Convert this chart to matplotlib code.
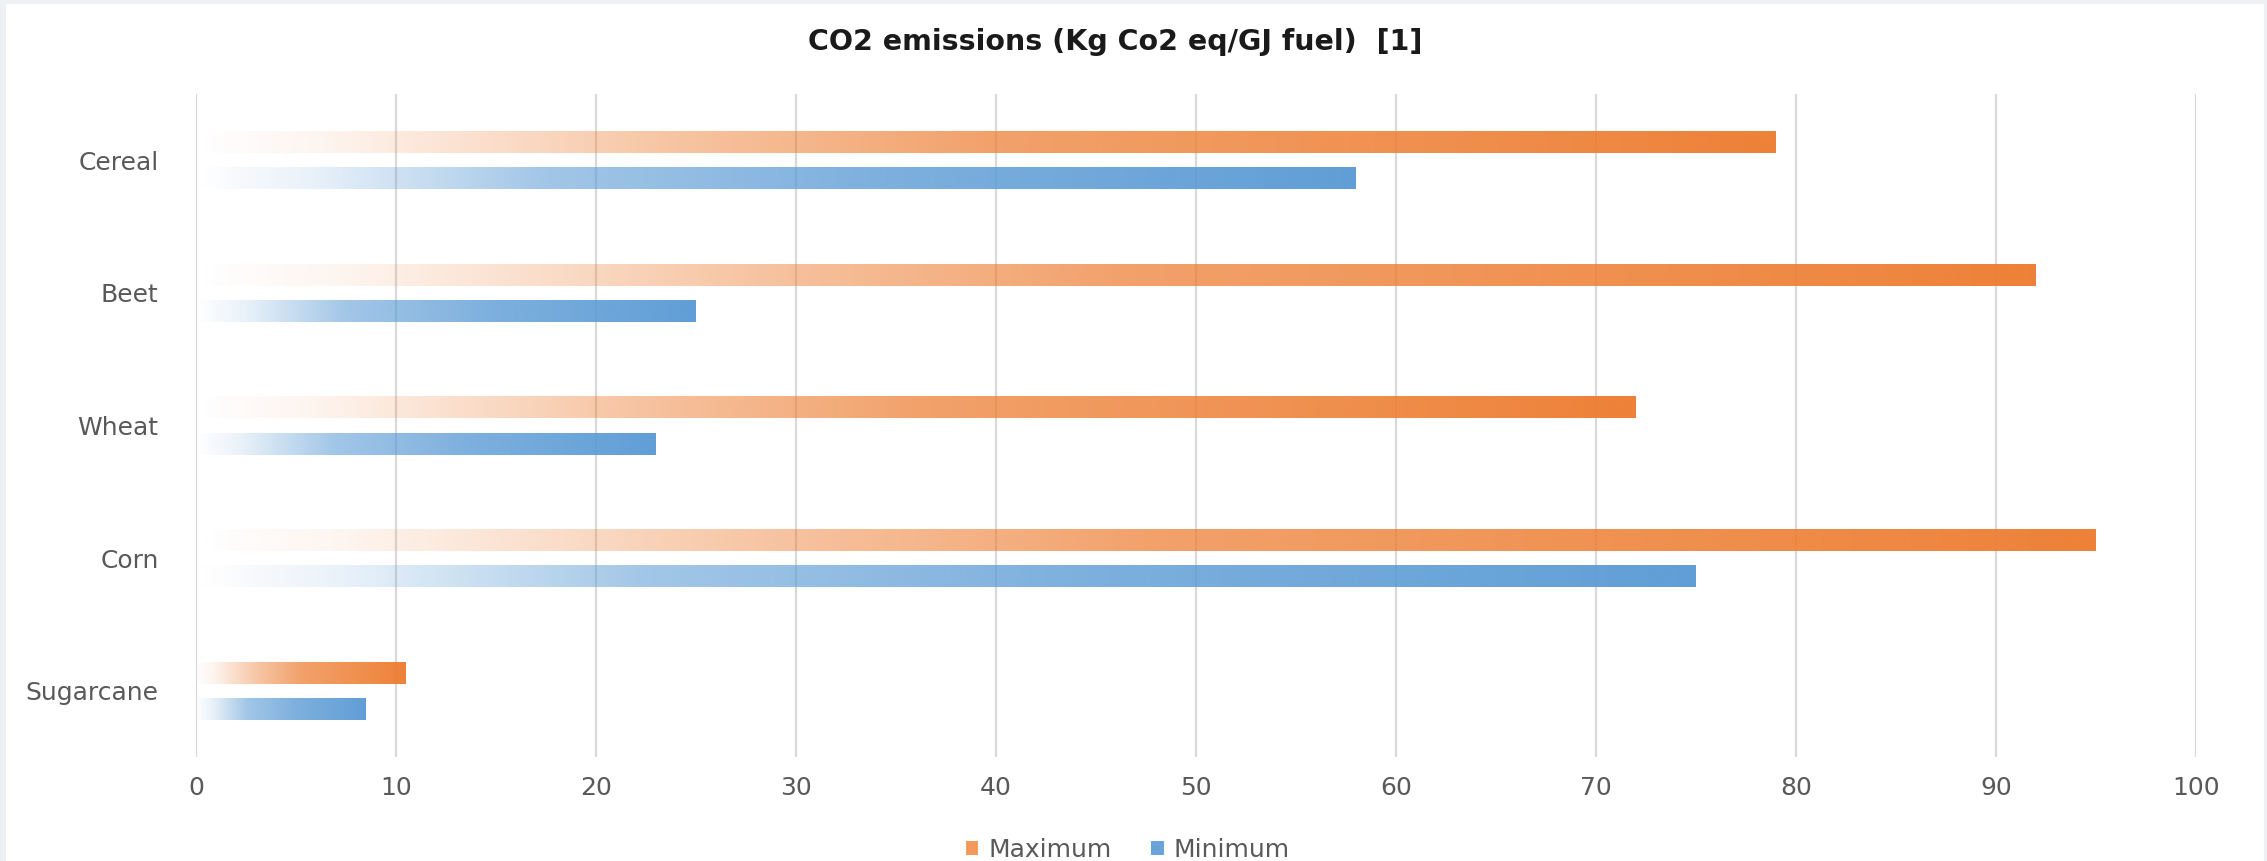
import numpy as np
import matplotlib
matplotlib.use('Agg')
import matplotlib.pyplot as plt
from matplotlib.colors import to_rgb
from matplotlib.patches import Patch, Rectangle

# data
crops = ['Cereal', 'Beet', 'Wheat', 'Corn', 'Sugarcane']
maximum = [79, 92, 72, 95, 10.5]
minimum = [58, 25, 23, 75, 8.5]
xticks = [0, 10, 20, 30, 40, 50, 60, 70, 80, 90, 100]

orange = '#ED7D31'
blue = '#5B9BD5'
label_font = ['DejaVu Sans']

fig = plt.figure(figsize=(22.67, 8.61), dpi=100, facecolor='#eef1f3')
# white chart area inside a thin light frame
fig.patches.append(Rectangle((6 / 2267, 0), 1 - 9 / 2267, 1 - 4 / 861,
                             transform=fig.transFigure, facecolor='white',
                             edgecolor='none', zorder=-1))
ax = fig.add_axes([196 / 2267, 1 - 757 / 861, 2000 / 2267, 663 / 861])
ax.set_facecolor('white')

ypos = np.arange(len(crops))[::-1]  # Cereal at top
off = 0.136
h = 0.166


def gradient_bar(patch, color, tt, ff):
    # colour fades in from transparent at the base to full at the tip
    x0, y0 = patch.get_x(), patch.get_y()
    w, hh = patch.get_width(), patch.get_height()
    t = np.linspace(0, 1, 400)
    f = np.interp(t, tt, ff)
    img = np.zeros((1, len(t), 4))
    img[0, :, :3] = to_rgb(color)
    img[0, :, 3] = f
    im = ax.imshow(img, extent=[x0, x0 + w, y0, y0 + hh], aspect='auto',
                   interpolation='bilinear', zorder=3)
    im.set_clip_path(patch)


bars_max = ax.barh(ypos + off, maximum, height=h, color='none', edgecolor='none', zorder=3)
bars_min = ax.barh(ypos - off, minimum, height=h, color='none', edgecolor='none', zorder=3)

for p in bars_max:
    gradient_bar(p, orange, [0, 0.08, 0.3, 0.5, 1], [0, 0.08, 0.45, 0.72, 0.97])
for p in bars_min:
    gradient_bar(p, blue, [0, 0.1, 0.3, 0.6, 1], [0, 0.14, 0.57, 0.8, 0.97])

ax.set_xlim(0, 100)
ax.set_ylim(-0.5, len(crops) - 0.5)
ax.set_xticks(xticks)
ax.set_yticks(ypos)
ax.set_yticklabels(crops)
ax.grid(axis='x', color='#d9d9d9', lw=1.6, zorder=0)
ax.set_axisbelow(True)
for s in ax.spines.values():
    s.set_visible(False)
ax.tick_params(length=0, colors='#595959', labelsize=18)
ax.tick_params(axis='x', pad=14)
ax.tick_params(axis='y', pad=27)
for lab in ax.get_xticklabels() + ax.get_yticklabels():
    lab.set_family(label_font)

fig.text(0.492, 1 - 42 / 861, 'CO2 emissions (Kg Co2 eq/GJ fuel)  [1]',
         ha='center', va='center', fontsize=20.5, fontweight='bold',
         family=['DejaVu Sans'], color='#1a1a1a')

handles = [Patch(facecolor='#f29a5c', edgecolor='none', label='Maximum'),
           Patch(facecolor='#6aa3d9', edgecolor='none', label='Minimum')]
fig.legend(handles=handles, loc='center', bbox_to_anchor=(0.4975, 1 - 850 / 861),
           ncol=2, frameon=False, handlelength=0.5, handleheight=0.5,
           handletextpad=0.4, columnspacing=1.6,
           prop={'family': label_font, 'size': 18}, labelcolor='#595959')

fig.savefig('out.png', dpi=100, facecolor=fig.get_facecolor())
